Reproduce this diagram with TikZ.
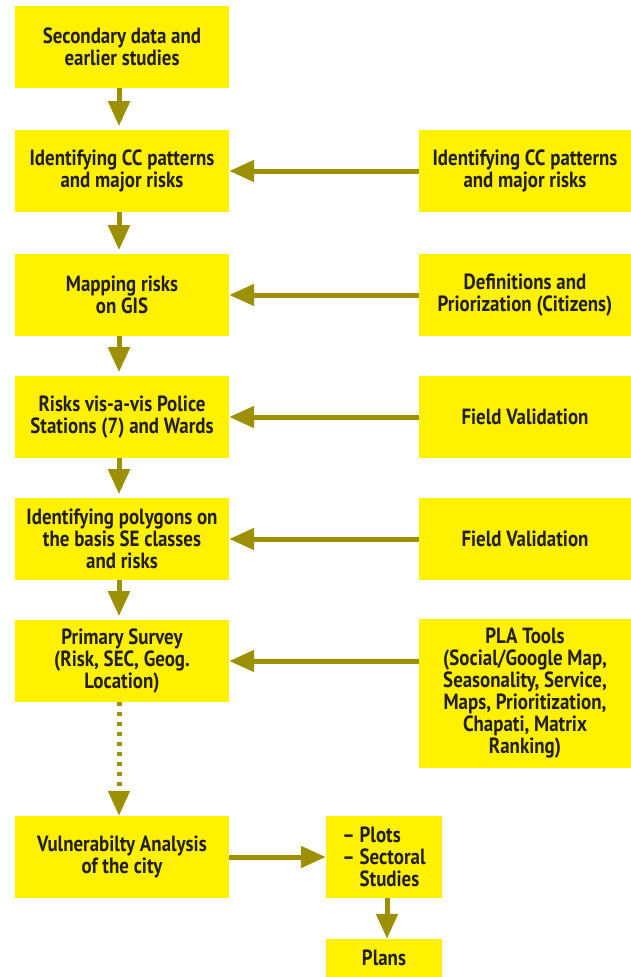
\documentclass[tikz,border=0pt]{standalone}
\usepackage{fontspec}
\setmainfont{PT Sans}[FakeStretch=0.86]
\usepackage{tikz}
\usetikzlibrary{arrows.meta,positioning,calc}

\definecolor{boxyellow}{HTML}{FFF100}
\definecolor{arrowolive}{HTML}{9C9000}
\definecolor{inkdark}{HTML}{231F20}

\tikzset{
    stepbox/.style={fill=boxyellow, text=inkdark, inner sep=0pt, align=center,
        font=\fontsize{22}{22}\selectfont\bfseries,
        minimum width=214pt, minimum height=82pt},
    inputbox/.style={stepbox, minimum width=212pt},
    smallbox/.style={stepbox, minimum width=116pt},
    flow/.style={draw=arrowolive, line width=5pt,
        -{Triangle[width=21pt,length=25pt]}, arrowolive},
}

\begin{document}
\begin{tikzpicture}[x=1pt,y=-1pt]
    \useasboundingbox (0,0) rectangle (631,977);
    % main column
    \node[stepbox] (secondary) at (122,47) {Secondary data and\\earlier studies};
    \node[stepbox] (patterns) at (122,171) {Identifying CC patterns\\and major risks};
    \node[stepbox] (mapping) at (122,295) {Mapping risks\\on GIS};
    \node[stepbox] (police) at (122,417) {Risks vis-a-vis Police\\Stations (7) and Wards};
    \node[stepbox] (polygons) at (122,539) {Identifying polygons on\\the basis SE classes\\and risks};
    \node[stepbox] (survey) at (122,661) {Primary Survey\\(Risk, SEC, Geog.\\Location)};
    \node[stepbox] (vulner) at (122,857) {Vulnerabilty Analysis\\of the city};
    % inputs on the right
    \node[inputbox] (inpatterns) at (525,171) {Identifying CC patterns\\and major risks};
    \node[inputbox] (indefs) at (525,295) {Definitions and\\Priorization (Citizens)};
    \node[inputbox] (infield1) at (525,417) {Field Validation};
    \node[inputbox] (infield2) at (525,539) {Field Validation};
    \node[inputbox, minimum height=149pt] (inpla) at (525,693.5) {PLA Tools\\(Social/Google Map,\\Seasonality, Service,\\Maps, Prioritization,\\Chapati, Matrix\\Ranking)};
    % outputs
    \node[smallbox, align=left] (plots) at (384,857) {-- Plots\\-- Sectoral\\\phantom{-- }Studies};
    \node[smallbox, minimum height=38pt] (plans) at (384,958) {Plans};

    \draw[flow] ([xshift=-3pt]secondary.south) -- ++(0,38);
    \draw[flow] ([xshift=-3pt]patterns.south) -- ++(0,38);
    \draw[flow] ([xshift=-3pt]mapping.south) -- ++(0,36);
    \draw[flow] ([xshift=-3pt]police.south) -- ++(0,36);
    \draw[flow] ([xshift=-3pt]polygons.south) -- ++(0,36);
    \draw[flow, dash pattern=on 4pt off 6pt] ([xshift=-3pt]survey.south) -- ([xshift=-3pt]vulner.north);

    \draw[flow] (inpatterns) -- (patterns);
    \draw[flow] (indefs) -- (mapping);
    \draw[flow] (infield1) -- (police);
    \draw[flow] (infield2) -- (polygons);
    \draw[flow] (inpla.west |- survey.east) -- (survey.east);

    \draw[flow] (vulner) -- (plots);
    \draw[flow] ([xshift=3pt]plots.south) -- ([xshift=3pt]plans.north);
\end{tikzpicture}
\end{document}
